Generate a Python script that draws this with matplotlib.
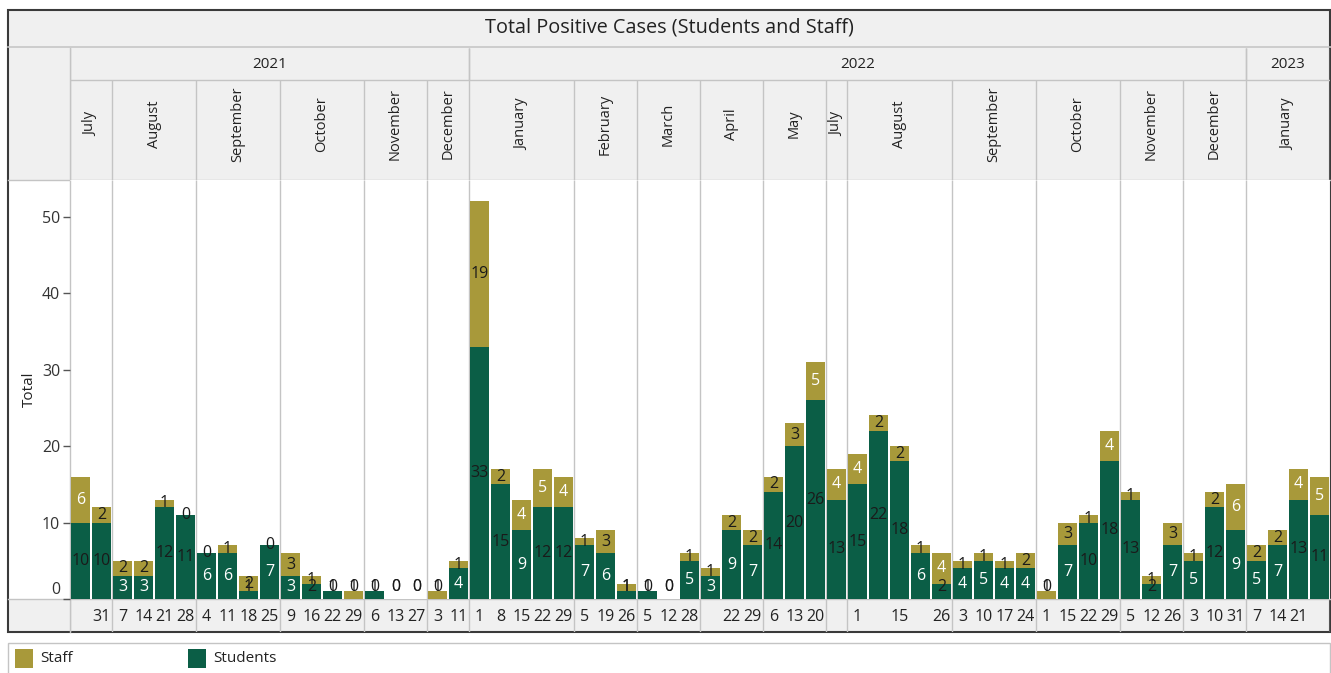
import matplotlib
matplotlib.use("Agg")
import matplotlib.pyplot as plt
import numpy as np
from matplotlib.patches import Rectangle
from matplotlib.transforms import ScaledTranslation

plt.rcParams['font.family'] = ['Open Sans', 'DejaVu Sans']

# ---------------- data ----------------
months = ["July", "August", "September", "October", "November", "December",
          "January", "February", "March", "April", "May", "July", "August",
          "September", "October", "November", "December", "January"]
month_years = [2021, 2021, 2021, 2021, 2021, 2021,
               2022, 2022, 2022, 2022, 2022, 2022, 2022, 2022, 2022, 2022, 2022,
               2023]
bars_per_month = [2, 4, 4, 4, 3, 2, 5, 3, 3, 3, 3, 1, 5, 4, 4, 3, 3, 4]

day_labels = ["", "31", "7", "14", "21", "28", "4", "11", "18", "25", "9", "16", "22", "29",
              "6", "13", "27", "3", "11",
              "1", "8", "15", "22", "29", "5", "19", "26", "5", "12", "28", "", "22", "29",
              "6", "13", "20", "", "1", "", "15", "", "26", "3", "10", "17", "24",
              "1", "15", "22", "29", "5", "12", "26", "3", "10", "31",
              "7", "14", "21", ""]

students = [10, 10, 3, 3, 12, 11, 6, 6, 1, 7, 3, 2, 1, 0, 1, 0, 0, 0, 4,
            33, 15, 9, 12, 12, 7, 6, 1, 1, 0, 5, 3, 9, 7, 14, 20, 26, 13,
            15, 22, 18, 6, 2, 4, 5, 4, 4, 0, 7, 10, 18, 13, 2, 7, 5, 12, 9,
            5, 7, 13, 11]
staff = [6, 2, 2, 2, 1, 0, 0, 1, 2, 0, 3, 1, 0, 1, 0, 0, 0, 1, 1,
         19, 2, 4, 5, 4, 1, 3, 1, 0, 0, 1, 1, 2, 2, 2, 3, 5, 4,
         4, 2, 2, 1, 4, 1, 1, 1, 2, 1, 3, 1, 4, 1, 1, 3, 1, 2, 6,
         2, 2, 4, 5]

series_names = ["Staff", "Students"]
y_ticks = [0, 10, 20, 30, 40, 50]
title = "Total Positive Cases (Students and Staff)"

# ---------------- style ----------------
GREEN = "#0b5e46"
GOLD = "#a8993a"
HDR = "#f0f0f0"
GRID = "#c4c4c4"
TXT = "#222222"
W, H = 1331, 673

fig = plt.figure(figsize=(W / 100, H / 100), dpi=100)


def rect(x0, y0, x1, y1):
    return [x0 / W, 1 - y1 / H, (x1 - x0) / W, (y1 - y0) / H]


# background canvas in pixel coords
bg = fig.add_axes([0, 0, 1, 1], zorder=0)
bg.set_xlim(0, W)
bg.set_ylim(H, 0)
bg.axis("off")
bg.add_patch(Rectangle((8, 10), W - 8, 36, facecolor=HDR, edgecolor="none"))
bg.add_patch(Rectangle((8, 48), W - 8, 132, facecolor=HDR, edgecolor="none"))
bg.add_patch(Rectangle((8, 599), W - 8, 33, facecolor=HDR, edgecolor="none"))
bg.plot([8, W], [47, 47], color=GRID, lw=1.2)
bg.plot([70, 70], [48, 632], color=GRID, lw=1)
bg.plot([8, W], [180, 180], color=GRID, lw=1)
bg.plot([8, W], [599, 599], color=GRID, lw=1)
bg.add_patch(Rectangle((8, 10), W - 9, 622, facecolor="none", edgecolor="#3a3a3a", lw=1.5))
bg.text((8 + W) / 2, 27, title, ha="center", va="center", fontsize=14.3, color=TXT)

# legend
bg.add_patch(Rectangle((8, 643), W - 9, 40, facecolor="white", edgecolor=GRID, lw=1))
bg.add_patch(Rectangle((15, 649), 18, 19, facecolor=GOLD, edgecolor="none"))
bg.text(40, 659, series_names[0], ha="left", va="center", fontsize=11, color=TXT)
bg.add_patch(Rectangle((188, 649), 18, 19, facecolor=GREEN, edgecolor="none"))
bg.text(213, 659, series_names[1], ha="left", va="center", fontsize=11, color=TXT)

n = len(students)
x = np.arange(n)
bounds = np.concatenate([[0], np.cumsum(bars_per_month)]) - 0.5

# main plot
ax = fig.add_axes(rect(70, 180, 1330, 599), zorder=2)
ax.set_facecolor("white")
ax.bar(x, students, width=0.88, color=GREEN, zorder=3)
ax.bar(x, staff, width=0.88, bottom=students, color=GOLD, zorder=3)
ax.set_xlim(-0.5, n - 0.5)
ax.set_ylim(0, 54.8)
ax.vlines(bounds, 0, 54.8, color=GRID, lw=1, zorder=1)
for s in ax.spines.values():
    s.set_visible(False)
ax.set_xticks([])
ax.set_yticks(y_ticks)
ax.tick_params(axis="y", length=5, width=1, color="#555555", labelsize=11.5,
               labelcolor="#333333", pad=2)
lbl0 = ax.get_yticklabels()[0]
lbl0.set_transform(lbl0.get_transform() + ScaledTranslation(0, 0.11, fig.dpi_scale_trans))
ax.set_ylabel("Total", fontsize=11, color=TXT)
ax.yaxis.set_label_coords(-0.0265, 0.5)

for i in range(n):
    s, t = students[i], staff[i]
    c = "white" if 3 <= s <= 9 else "#1a1a1a"
    ax.text(i, max(s / 2, 1.6), str(s), ha="center", va="center", fontsize=11.5,
            color=c, zorder=4)
    c2 = "white" if 4 <= t <= 9 else "#1a1a1a"
    ax.text(i, max(s + t / 2, 1.6), str(t), ha="center", va="center", fontsize=11.5,
            color=c2, zorder=4)

# header (years + months)
hx = fig.add_axes(rect(70, 48, 1330, 180), zorder=1)
hx.set_xlim(-0.5, n - 0.5)
hx.set_ylim(132, 0)
hx.axis("off")
hx.hlines(32, -0.5, n - 0.5, color=GRID, lw=1)
hx.vlines(bounds, 32, 132, color=GRID, lw=1)
for i, m in enumerate(months):
    xc = (bounds[i] + bounds[i + 1]) / 2
    hx.text(xc, 76, m, rotation=90, ha="center", va="center", fontsize=10.5, color=TXT)
years = []
for y in month_years:
    if y not in years:
        years.append(y)
for y in years:
    idx = [i for i, yy in enumerate(month_years) if yy == y]
    x0, x1 = bounds[idx[0]], bounds[idx[-1] + 1]
    hx.vlines([x0, x1], 0, 32, color=GRID, lw=1)
    hx.text((x0 + x1) / 2, 17, str(y), ha="center", va="center", fontsize=11, color=TXT)

# date row
dx = fig.add_axes(rect(70, 599, 1330, 632), zorder=1)
dx.set_xlim(-0.5, n - 0.5)
dx.set_ylim(0, 1)
dx.axis("off")
dx.vlines(bounds, 0, 1, color=GRID, lw=1)
for i, d in enumerate(day_labels):
    dx.text(i, 0.45, d, ha="center", va="center", fontsize=11.5, color=TXT)

fig.savefig("out.png", dpi=100)
